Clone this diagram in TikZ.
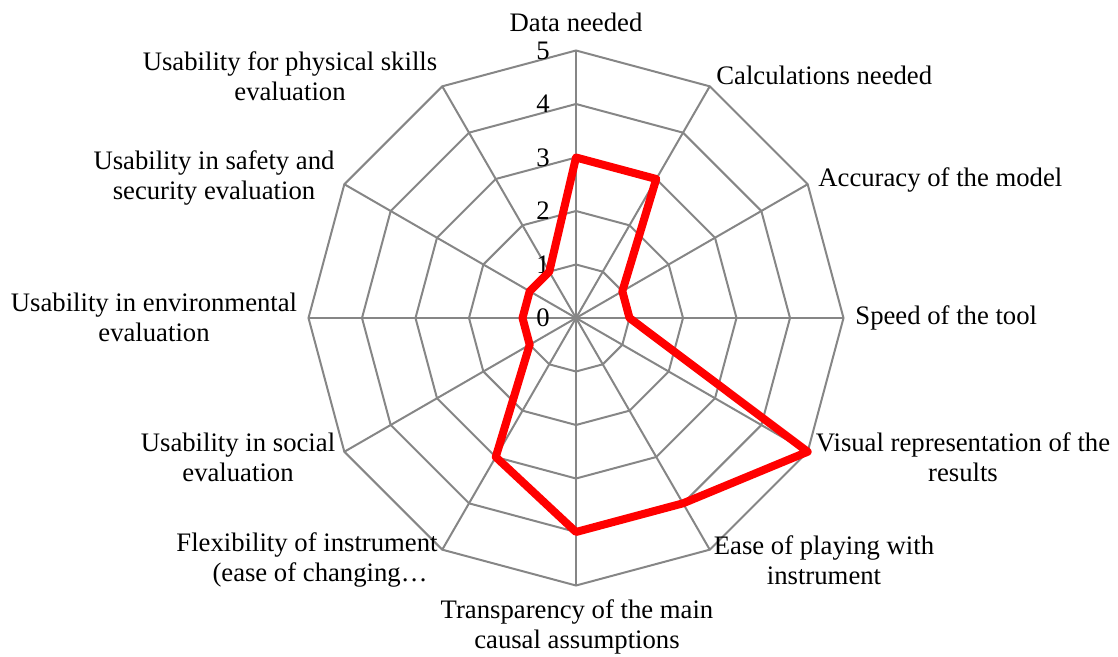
\documentclass[tikz,border=0pt]{standalone}
\usepackage{fontspec}
\setmainfont{Liberation Serif}
\definecolor{gridgray}{RGB}{134,134,134}
\begin{document}
\begin{tikzpicture}[x=0.5pt,y=0.5pt,
  font=\fontsize{13.35}{15}\selectfont,
  grid/.style={draw=gridgray, line width=1pt},
  lbl/.style={align=center, inner sep=0pt},
  tick/.style={anchor=east, inner sep=0pt},
  series/.style={draw=red, line width=4pt, line join=round}]
\useasboundingbox (0,0) rectangle (1118,-657);
\coordinate (C) at (576,-318);
\foreach \k in {0,...,11}{
  \foreach \r in {1,...,5}{
    \coordinate (g\r-\k) at ([shift={({90-30*\k}:{53.5*\r})}]C);
  }
}
% rings
\foreach \r in {1,...,5}{
  \draw[grid] (g\r-0) \foreach \k in {1,...,11}{ -- (g\r-\k)} -- cycle;
}
% spokes
\foreach \k in {0,...,11}{
  \draw[grid] (C) -- (g5-\k);
}
% ticks
\foreach \r in {0,...,5}{
  \node[tick] (t\r) at (550,{-318+53.5*\r}) {\r};
}
% data
\foreach \k/\v in {0/3,1/3,2/1,3/1,4/5,5/4,6/4,7/3,8/1,9/1,10/1,11/1}{
  \coordinate (d\k) at ([shift={({90-30*\k}:{53.5*\v})}]C);
}
\draw[series] (d0) \foreach \k in {1,...,11}{ -- (d\k)} -- cycle;
% labels
\node[lbl] (L0) at (576,-22) {Data needed};
\node[lbl, anchor=west] (L1) at (716,-75) {Calculations needed};
\node[lbl, anchor=west] (L2) at (818,-180) {Accuracy of the model};
\node[lbl, anchor=west] (L3) at (855,-318) {Speed of the tool};
\node[lbl] (L4) at (963,-457) {Visual representation of the\\results};
\node[lbl] (L5) at (824,-560) {Ease of playing with\\instrument};
\node[lbl] (L6) at (577,-627) {Transparency of the main\\causal assumptions};
\node[lbl] (L7) at (307,-560) {Flexibility of instrument\\\hspace*{13pt}(ease of changing…};
\node[lbl] (L8) at (238,-457) {Usability in social\\evaluation};
\node[lbl] (L9) at (154,-317) {Usability in environmental\\evaluation};
\node[lbl] (L10) at (214,-178) {Usability in safety and\\security evaluation};
\node[lbl] (L11) at (290,-76) {Usability for physical skills\\evaluation};
\end{tikzpicture}
\end{document}
